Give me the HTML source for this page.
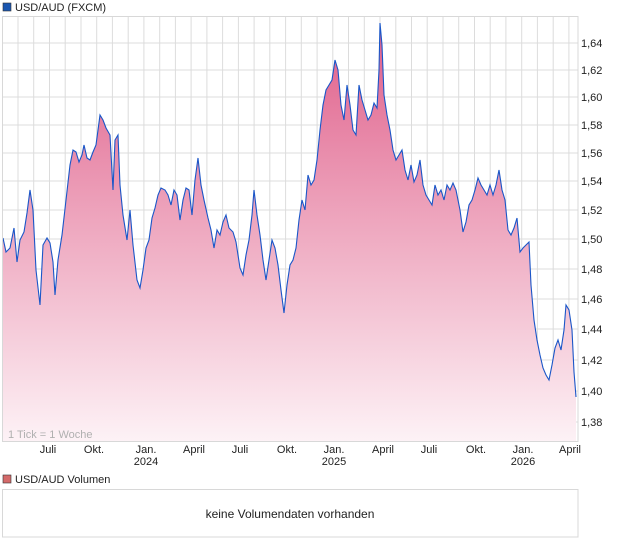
<!DOCTYPE html>
<html><head><meta charset="utf-8"><style>
body{margin:0;background:#fff;font-family:"Liberation Sans",sans-serif;}
</style></head><body>
<svg width="620" height="546" xmlns="http://www.w3.org/2000/svg" font-family="Liberation Sans, sans-serif">
<defs>
<linearGradient id="g" x1="0" y1="20" x2="0" y2="442" gradientUnits="userSpaceOnUse">
<stop offset="0" stop-color="#df5c88"/>
<stop offset="0.45" stop-color="#eda2bb"/>
<stop offset="1" stop-color="#fdf2f6"/>
</linearGradient>
</defs>
<rect x="3" y="3" width="8" height="8" fill="#1a56b0" stroke="#333" stroke-width="0.6"/>
<text x="15" y="11" font-size="11" fill="#222">USD/AUD (FXCM)</text>
<g stroke="#dcdcdc" stroke-width="1">
<line x1="2" y1="43" x2="578" y2="43"/><line x1="2" y1="70" x2="578" y2="70"/><line x1="2" y1="97" x2="578" y2="97"/><line x1="2" y1="125" x2="578" y2="125"/><line x1="2" y1="153" x2="578" y2="153"/><line x1="2" y1="181" x2="578" y2="181"/><line x1="2" y1="210" x2="578" y2="210"/><line x1="2" y1="239" x2="578" y2="239"/><line x1="2" y1="269" x2="578" y2="269"/><line x1="2" y1="299" x2="578" y2="299"/><line x1="2" y1="329" x2="578" y2="329"/><line x1="2" y1="360" x2="578" y2="360"/><line x1="2" y1="391" x2="578" y2="391"/><line x1="2" y1="422" x2="578" y2="422"/>
<line x1="18" y1="16" x2="18" y2="442"/><line x1="33.7" y1="16" x2="33.7" y2="442"/><line x1="49.5" y1="16" x2="49.5" y2="442"/><line x1="65.2" y1="16" x2="65.2" y2="442"/><line x1="81" y1="16" x2="81" y2="442"/><line x1="96.7" y1="16" x2="96.7" y2="442"/><line x1="112.4" y1="16" x2="112.4" y2="442"/><line x1="128.2" y1="16" x2="128.2" y2="442"/><line x1="143.9" y1="16" x2="143.9" y2="442"/><line x1="159.7" y1="16" x2="159.7" y2="442"/><line x1="175.4" y1="16" x2="175.4" y2="442"/><line x1="191.1" y1="16" x2="191.1" y2="442"/><line x1="206.9" y1="16" x2="206.9" y2="442"/><line x1="222.6" y1="16" x2="222.6" y2="442"/><line x1="238.4" y1="16" x2="238.4" y2="442"/><line x1="254.1" y1="16" x2="254.1" y2="442"/><line x1="269.8" y1="16" x2="269.8" y2="442"/><line x1="285.6" y1="16" x2="285.6" y2="442"/><line x1="301.3" y1="16" x2="301.3" y2="442"/><line x1="317.1" y1="16" x2="317.1" y2="442"/><line x1="332.8" y1="16" x2="332.8" y2="442"/><line x1="348.5" y1="16" x2="348.5" y2="442"/><line x1="364.3" y1="16" x2="364.3" y2="442"/><line x1="380" y1="16" x2="380" y2="442"/><line x1="395.8" y1="16" x2="395.8" y2="442"/><line x1="411.5" y1="16" x2="411.5" y2="442"/><line x1="427.2" y1="16" x2="427.2" y2="442"/><line x1="443" y1="16" x2="443" y2="442"/><line x1="458.7" y1="16" x2="458.7" y2="442"/><line x1="474.5" y1="16" x2="474.5" y2="442"/><line x1="490.2" y1="16" x2="490.2" y2="442"/><line x1="505.9" y1="16" x2="505.9" y2="442"/><line x1="521.7" y1="16" x2="521.7" y2="442"/><line x1="537.4" y1="16" x2="537.4" y2="442"/><line x1="553.2" y1="16" x2="553.2" y2="442"/><line x1="568.9" y1="16" x2="568.9" y2="442"/>
</g>
<path d="M3,238 L6,252 L10,248 L14,228 L17,262 L20,240 L24,232 L27,213 L30,190 L33,210 L36,270 L40,305 L43,245 L47,238 L50,243 L53,262 L55,295 L58,260 L62,235 L66,200 L70,165 L73,150 L76,152 L79,162 L82,155 L84,145 L87,158 L90,160 L93,152 L96,145 L100,115 L103,120 L106,128 L110,135 L113,190 L115,140 L118,135 L120,185 L123,215 L127,240 L130,210 L133,245 L137,280 L140,288 L143,270 L146,248 L149,240 L152,218 L155,208 L158,195 L161,188 L165,190 L168,195 L171,205 L174,190 L177,195 L180,220 L183,200 L186,188 L189,190 L192,215 L195,180 L198,158 L201,185 L204,200 L208,218 L211,230 L214,248 L217,230 L220,235 L223,222 L226,215 L229,228 L233,232 L236,242 L240,268 L243,275 L246,255 L249,240 L252,215 L254,190 L257,215 L260,235 L263,260 L266,280 L269,260 L272,240 L275,248 L278,265 L281,290 L284,313 L287,285 L290,265 L293,260 L296,248 L299,220 L302,200 L305,210 L308,175 L311,185 L314,180 L317,160 L320,130 L323,105 L326,90 L329,85 L332,80 L335,60 L338,70 L341,105 L344,120 L347,85 L350,105 L353,130 L356,135 L359,85 L362,100 L365,110 L368,120 L371,115 L374,103 L377,108 L379,70 L380,23 L382,45 L384,95 L387,115 L390,130 L393,150 L396,160 L399,155 L402,150 L405,170 L408,180 L411,165 L414,182 L417,175 L420,160 L423,185 L426,195 L429,200 L432,205 L435,185 L438,195 L441,190 L444,200 L447,185 L450,190 L453,183 L456,190 L460,210 L463,232 L466,222 L469,205 L472,200 L475,190 L478,178 L481,185 L484,190 L487,195 L490,185 L493,195 L496,185 L499,170 L502,190 L505,200 L508,230 L511,235 L514,228 L517,218 L520,252 L523,248 L526,245 L529,242 L531,285 L534,320 L537,340 L540,355 L543,368 L546,375 L549,380 L552,365 L555,348 L558,340 L561,350 L564,330 L566,305 L569,310 L572,330 L574,372 L576,397 L576,442 L3,442 Z" fill="url(#g)"/>
<path d="M3,238 L6,252 L10,248 L14,228 L17,262 L20,240 L24,232 L27,213 L30,190 L33,210 L36,270 L40,305 L43,245 L47,238 L50,243 L53,262 L55,295 L58,260 L62,235 L66,200 L70,165 L73,150 L76,152 L79,162 L82,155 L84,145 L87,158 L90,160 L93,152 L96,145 L100,115 L103,120 L106,128 L110,135 L113,190 L115,140 L118,135 L120,185 L123,215 L127,240 L130,210 L133,245 L137,280 L140,288 L143,270 L146,248 L149,240 L152,218 L155,208 L158,195 L161,188 L165,190 L168,195 L171,205 L174,190 L177,195 L180,220 L183,200 L186,188 L189,190 L192,215 L195,180 L198,158 L201,185 L204,200 L208,218 L211,230 L214,248 L217,230 L220,235 L223,222 L226,215 L229,228 L233,232 L236,242 L240,268 L243,275 L246,255 L249,240 L252,215 L254,190 L257,215 L260,235 L263,260 L266,280 L269,260 L272,240 L275,248 L278,265 L281,290 L284,313 L287,285 L290,265 L293,260 L296,248 L299,220 L302,200 L305,210 L308,175 L311,185 L314,180 L317,160 L320,130 L323,105 L326,90 L329,85 L332,80 L335,60 L338,70 L341,105 L344,120 L347,85 L350,105 L353,130 L356,135 L359,85 L362,100 L365,110 L368,120 L371,115 L374,103 L377,108 L379,70 L380,23 L382,45 L384,95 L387,115 L390,130 L393,150 L396,160 L399,155 L402,150 L405,170 L408,180 L411,165 L414,182 L417,175 L420,160 L423,185 L426,195 L429,200 L432,205 L435,185 L438,195 L441,190 L444,200 L447,185 L450,190 L453,183 L456,190 L460,210 L463,232 L466,222 L469,205 L472,200 L475,190 L478,178 L481,185 L484,190 L487,195 L490,185 L493,195 L496,185 L499,170 L502,190 L505,200 L508,230 L511,235 L514,228 L517,218 L520,252 L523,248 L526,245 L529,242 L531,285 L534,320 L537,340 L540,355 L543,368 L546,375 L549,380 L552,365 L555,348 L558,340 L561,350 L564,330 L566,305 L569,310 L572,330 L574,372 L576,397" fill="none" stroke="#1a56c8" stroke-width="1.1"/>
<rect x="2.5" y="16.5" width="575.5" height="425" fill="none" stroke="#d8d8d8"/>
<text x="8" y="438" font-size="11" fill="#b0b0b0">1 Tick = 1 Woche</text>
<g font-size="11" fill="#222">
<text x="581" y="47">1,64</text><text x="581" y="74">1,62</text><text x="581" y="101">1,60</text><text x="581" y="129">1,58</text><text x="581" y="157">1,56</text><text x="581" y="185">1,54</text><text x="581" y="214">1,52</text><text x="581" y="243">1,50</text><text x="581" y="273">1,48</text><text x="581" y="303">1,46</text><text x="581" y="333">1,44</text><text x="581" y="364">1,42</text><text x="581" y="395">1,40</text><text x="581" y="426">1,38</text>
</g>
<g font-size="11" fill="#222" text-anchor="middle">
<text x="48" y="453">Juli</text><text x="94" y="453">Okt.</text><text x="146" y="453">Jan.</text><text x="146" y="465">2024</text><text x="194" y="453">April</text><text x="240" y="453">Juli</text><text x="287" y="453">Okt.</text><text x="334" y="453">Jan.</text><text x="334" y="465">2025</text><text x="383" y="453">April</text><text x="429" y="453">Juli</text><text x="476" y="453">Okt.</text><text x="523" y="453">Jan.</text><text x="523" y="465">2026</text><text x="570" y="453">April</text>
</g>
<rect x="3" y="475" width="8" height="8" fill="#d46a6a" stroke="#333" stroke-width="0.6"/>
<text x="15" y="483" font-size="11" fill="#222">USD/AUD Volumen</text>
<rect x="2.5" y="489.5" width="575.5" height="47.5" fill="#fff" stroke="#d8d8d8"/>
<text x="290" y="518" font-size="12" fill="#222" text-anchor="middle">keine Volumendaten vorhanden</text>
</svg>
</body></html>
